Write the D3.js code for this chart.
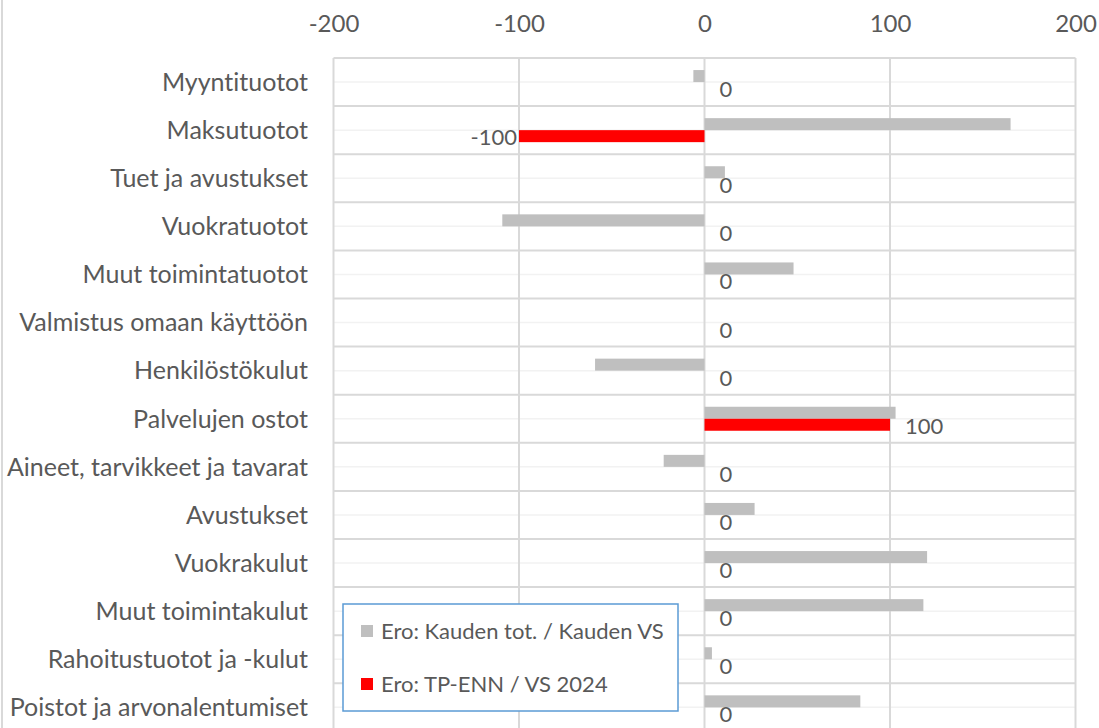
<!DOCTYPE html>
<html>
<head>
<meta charset="utf-8">
<script src="https://cdn.jsdelivr.net/npm/d3@7"></script>
<style>
  body { margin: 0; background: #fff; }
  svg { display: block; }
  text { font-family: Lato, "Liberation Sans", sans-serif; fill: #595959; font-variant-ligatures: none; }
</style>
</head>
<body>
<svg width="1099" height="728"></svg>
<script>
const categories = [
  "Myyntituotot", "Maksutuotot", "Tuet ja avustukset", "Vuokratuotot",
  "Muut toimintatuotot", "Valmistus omaan käyttöön", "Henkilöstökulut",
  "Palvelujen ostot", "Aineet, tarvikkeet ja tavarat", "Avustukset",
  "Vuokrakulut", "Muut toimintakulut", "Rahoitustuotot ja -kulut",
  "Poistot ja arvonalentumiset"
];
// Ero: Kauden tot. / Kauden VS
const kaudenEro = [-6, 165, 11, -109, 48, 0, -59, 103, -22, 27, 120, 118, 4, 84];
// Ero: TP-ENN / VS 2024
const tpEro = [0, -100, 0, 0, 0, 0, 0, 100, 0, 0, 0, 0, 0, 0];
const xTicks = [-200, -100, 0, 100, 200];
const seriesNames = ["Ero: Kauden tot. / Kauden VS", "Ero: TP-ENN / VS 2024"];
const seriesColors = ["#bfbfbf", "#ff0000"];

const svg = d3.select("svg");
const plotLeft = 333.5, plotRight = 1075.5, plotTop = 58, band = 48.1;

const x = d3.scaleLinear().domain([-200, 200]).range([plotLeft, plotRight]);
const y = d3.scaleBand().domain(categories).range([plotTop, plotTop + band * categories.length]);
const barH = 12;

// left frame edge
svg.append("line").attr("x1", 2).attr("x2", 2).attr("y1", 0).attr("y2", 728)
  .attr("stroke", "#d9d9d9").attr("stroke-width", 2);

const grid = svg.append("g");
// minor gridlines (band centers)
grid.selectAll(".minor").data(categories).enter().append("line")
  .attr("x1", plotLeft).attr("x2", plotRight)
  .attr("y1", d => y(d) + y.bandwidth() / 2).attr("y2", d => y(d) + y.bandwidth() / 2)
  .attr("stroke", "#f2f2f2").attr("stroke-width", 1.5);
// major gridlines (band edges)
grid.selectAll(".major").data(d3.range(categories.length + 1)).enter().append("line")
  .attr("x1", plotLeft).attr("x2", plotRight)
  .attr("y1", i => plotTop + i * y.bandwidth()).attr("y2", i => plotTop + i * y.bandwidth())
  .attr("stroke", "#d9d9d9").attr("stroke-width", 2);
// vertical gridlines
grid.selectAll(".vgrid").data(xTicks).enter().append("line")
  .attr("x1", d => x(d)).attr("x2", d => x(d))
  .attr("y1", plotTop).attr("y2", 728)
  .attr("stroke", "#d9d9d9").attr("stroke-width", 2);

// top axis labels
const axis = d3.axisTop(x).tickValues(xTicks).tickSize(0).tickPadding(0)
  .tickFormat(d => String(d));
const axisG = svg.append("g").attr("transform", "translate(0,32)").call(axis);
axisG.select(".domain").remove();
axisG.selectAll("text").attr("font-size", 24).attr("font-family", "Lato, sans-serif").attr("fill", "#595959");

// category labels
svg.append("g").selectAll("text").data(categories).enter().append("text")
  .attr("x", 308).attr("y", d => y(d) + y.bandwidth() / 2)
  .attr("dy", "0.35em").attr("text-anchor", "end").attr("font-size", 25)
  .text(d => d);

// bars
const cy = i => y(categories[i]) + y.bandwidth() / 2;
svg.append("g").selectAll("rect").data(kaudenEro).enter().append("rect")
  .attr("x", d => x(Math.min(0, d))).attr("width", d => Math.abs(x(d) - x(0)))
  .attr("y", (d, i) => cy(i) - barH).attr("height", barH)
  .attr("fill", seriesColors[0]);
svg.append("g").selectAll("rect").data(tpEro).enter().append("rect")
  .attr("x", d => x(Math.min(0, d))).attr("width", d => Math.abs(x(d) - x(0)))
  .attr("y", (d, i) => cy(i)).attr("height", barH)
  .attr("fill", seriesColors[1]);

// data labels for red series
svg.append("g").selectAll("text").data(tpEro).enter().append("text")
  .attr("x", d => d < 0 ? x(d) - 2 : x(d) + 15)
  .attr("y", (d, i) => cy(i) + 15)
  .attr("text-anchor", d => d < 0 ? "end" : "start")
  .attr("font-size", 22)
  .text(d => d);

// legend
const legend = svg.append("g").attr("transform", "translate(343,604)");
legend.append("rect").attr("width", 335).attr("height", 107)
  .attr("fill", "#fff").attr("stroke", "#5b9bd5").attr("stroke-width", 1.5);
const item = legend.selectAll(".item").data(seriesNames).enter().append("g")
  .attr("transform", (d, i) => `translate(18,${27 + i * 53})`);
item.append("rect").attr("width", 12).attr("height", 12).attr("y", -6)
  .attr("fill", (d, i) => seriesColors[i]);
item.append("text").attr("x", 20).attr("dy", "0.35em").attr("font-size", 22)
  .text(d => d);
</script>
</body>
</html>
